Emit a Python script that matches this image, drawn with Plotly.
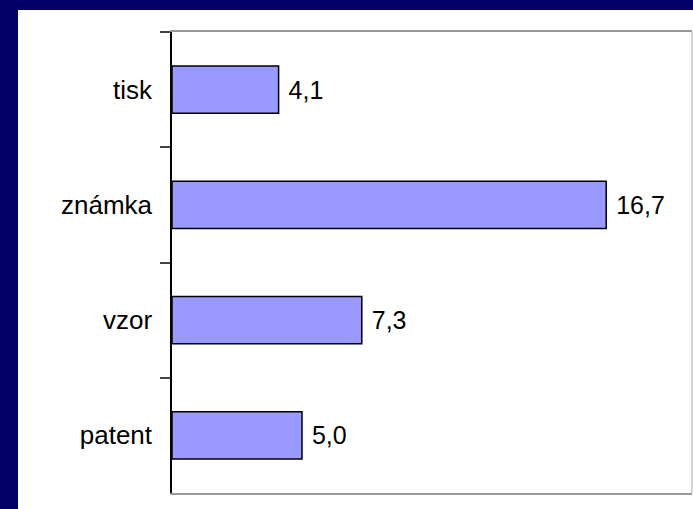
import plotly.graph_objects as go

categories = ["tisk", "známka", "vzor", "patent"]
values = [4.1, 16.7, 7.3, 5.0]

W, H = 693, 509
L, R, T, B = 172, 1, 32, 16
PW, PH = W - L - R, H - T - B


def px_x(p):
    return (p - L) / PW


def px_y(p):
    return (H - B - p) / PH


fig = go.Figure(go.Bar(
    x=values, y=categories, orientation="h",
    marker=dict(color="#9999FF", line=dict(color="black", width=1.5)),
    texttemplate=" %{x:.1f}", textposition="outside",
    textfont=dict(size=25, color="black"),
    cliponaxis=False,
))

fig.update_layout(
    width=W, height=H,
    margin=dict(l=L, r=R, t=T, b=B),
    paper_bgcolor="white", plot_bgcolor="white",
    font=dict(family="Liberation Sans, Arial", size=25, color="black"),
    separators=", ",
    bargap=0.59,
    showlegend=False,
    shapes=[
        # navy slide background strips
        dict(type="rect", xref="paper", yref="paper", x0=px_x(0), x1=px_x(18),
             y0=px_y(H), y1=px_y(0), fillcolor="#000066", line_width=0, layer="above"),
        dict(type="rect", xref="paper", yref="paper", x0=px_x(0), x1=px_x(W),
             y0=px_y(10), y1=px_y(0), fillcolor="#000066", line_width=0, layer="above"),
        # right plot border
        dict(type="line", xref="paper", yref="paper", x0=1, x1=1, y0=0, y1=1,
             line=dict(color="#d4d4d4", width=2)),
    ],
)

fig.update_xaxes(range=[0, 20], showticklabels=False, showgrid=False, zeroline=False,
                 showline=True, linecolor="#999999", linewidth=2, mirror=True, ticks="")
fig.update_yaxes(autorange="reversed", showgrid=False, showline=True, linecolor="black",
                 linewidth=1.5, ticks="outside", tickson="boundaries", ticklen=10,
                 tickcolor="#444444", tickwidth=1.5, ticklabelstandoff=13,
                 tickfont=dict(size=26))

fig.write_html("out.html", config={"displayModeBar": False},
               post_script="document.body.style.margin='0';")
